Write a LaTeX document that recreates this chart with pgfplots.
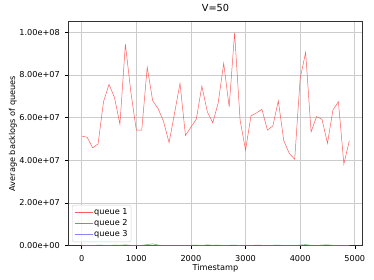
\documentclass[border=0pt]{standalone}
\usepackage{pgfplots}
\pgfplotsset{compat=1.18}
\usepackage{fontspec}
\setmainfont{DejaVu Sans}
\definecolor{gridgray}{HTML}{CCCCCC}
\definecolor{qred}{HTML}{FF4040}
\definecolor{qgreen}{HTML}{40A040}
\definecolor{qblue}{HTML}{7070FF}
\begin{document}
\begin{tikzpicture}
\begin{axis}[
  scale only axis,
  width=294.4bp, height=224bp,
  xmin=-245, xmax=5145,
  ymin=0, ymax=1.0497e8,
  xtick={0,1000,2000,3000,4000,5000},
  xticklabels={0,1000,2000,3000,4000,5000},
  ytick={0,2e7,4e7,6e7,8e7,1e8},
  yticklabels={0.00e+00,2.00e+07,4.00e+07,6.00e+07,8.00e+07,1.00e+08},
  scaled ticks=false,
  tick align=outside,
  tick pos=left,
  major tick length=2.8bp,
  every tick/.style={black, line width=0.5pt},
  grid=major,
  major grid style={gridgray, line width=0.8pt},
  axis line style={black!80, line width=0.6pt},
  tick label style={font=\fontsize{8.2}{10}\selectfont},
  /pgf/number format/assume math mode=true,
  xticklabel style={anchor=base, yshift=-12.6bp},
  yticklabel style={anchor=east, xshift=-2.2bp},
  title={V=50},
  title style={at={(axis description cs:0.5,1.021)}, anchor=base, font=\fontsize{9.8}{11}\selectfont},
  xlabel={Timestamp},
  xlabel style={at={(axis description cs:0.5,-0.1085)}, anchor=base, font=\fontsize{8.2}{10}\selectfont},
  ylabel={Average backlogs of queues},
  ylabel style={at={(axis description cs:-0.181,0.5)}, anchor=base, font=\fontsize{8.2}{10}\selectfont},
  legend style={at={(axis description cs:0.0126,0.0165)}, anchor=south west,
    draw=gray!35, rounded corners=2pt, fill=white, fill opacity=0.8, text opacity=1,
    font=\fontsize{8.2}{10}\selectfont, row sep=1.6pt, inner xsep=2.5pt, inner ysep=2.5pt,
    nodes={inner sep=1pt}},
  legend cell align=left,
  legend image code/.code={\draw[#1] (0bp,0bp) -- (18bp,0bp);},
]
\addplot[qred, line width=0.5pt, opacity=0.85] coordinates {
(0,5.14e7)(100,5.08e7)(200,4.59e7)(300,4.77e7)(400,6.75e7)(500,7.56e7)(600,6.95e7)(700,5.69e7)(800,9.45e7)(900,7.20e7)
(1000,5.42e7)(1100,5.42e7)(1200,8.37e7)(1300,6.79e7)(1400,6.42e7)(1500,5.81e7)(1600,4.83e7)(1700,6.20e7)(1800,7.61e7)(1900,5.17e7)
(2000,5.55e7)(2100,5.94e7)(2200,7.48e7)(2300,6.28e7)(2400,5.76e7)(2500,6.70e7)(2600,8.55e7)(2700,6.51e7)(2800,9.98e7)(2900,5.89e7)
(3000,4.48e7)(3100,6.09e7)(3200,6.22e7)(3300,6.39e7)(3400,5.42e7)(3500,5.61e7)(3600,6.79e7)(3700,4.92e7)(3800,4.33e7)(3900,4.05e7)
(4000,7.84e7)(4100,9.06e7)(4200,5.33e7)(4300,6.05e7)(4400,5.92e7)(4500,4.80e7)(4600,6.36e7)(4700,6.75e7)(4800,3.83e7)(4900,4.92e7)
};
\addlegendentry{queue 1}
\addplot[qgreen, line width=0.5pt, opacity=0.85] coordinates {
(0,1e5)(100,2e5)(200,1e5)(300,3e5)(400,2e5)(500,1e5)(600,3e5)(700,2e5)(800,4e5)(900,2e5)
(1000,1e5)(1100,2e5)(1200,5e5)(1300,9e5)(1400,3e5)(1500,1e5)(1600,2e5)(1700,1e5)(1800,2e5)(1900,1e5)
(2000,2e5)(2100,3e5)(2200,1e5)(2300,4e5)(2400,2e5)(2500,3e5)(2600,1e5)(2700,2e5)(2800,3e5)(2900,1e5)
(3000,2e5)(3100,1e5)(3200,3e5)(3300,2e5)(3400,1e5)(3500,2e5)(3600,3e5)(3700,1e5)(3800,2e5)(3900,1e5)
(4000,3e5)(4100,5e5)(4200,2e5)(4300,1e5)(4400,3e5)(4500,4e5)(4600,2e5)(4700,1e5)(4800,2e5)(4900,1e5)
};
\addlegendentry{queue 2}
\addplot[qblue, line width=0.5pt, opacity=0.85] coordinates {
(0,0.5e5)(100,1e5)(200,0.5e5)(300,1.5e5)(400,1e5)(500,0.5e5)(600,1e5)(700,1.5e5)(800,1e5)(900,0.5e5)
(1000,1e5)(1100,0.5e5)(1200,1e5)(1300,2e5)(1400,1e5)(1500,0.5e5)(1600,1e5)(1700,0.5e5)(1800,1e5)(1900,1.5e5)
(2000,1e5)(2100,0.5e5)(2200,1e5)(2300,1.5e5)(2400,1e5)(2500,0.5e5)(2600,1e5)(2700,0.5e5)(2800,1e5)(2900,1.5e5)
(3000,1e5)(3100,0.5e5)(3200,1e5)(3300,0.5e5)(3400,1e5)(3500,1.5e5)(3600,1e5)(3700,0.5e5)(3800,1e5)(3900,0.5e5)
(4000,1e5)(4100,2e5)(4200,1e5)(4300,0.5e5)(4400,1e5)(4500,1.5e5)(4600,1e5)(4700,0.5e5)(4800,1e5)(4900,0.5e5)
};
\addlegendentry{queue 3}
\end{axis}
\pgfresetboundingbox
\path[use as bounding box] ([xshift=-68.3bp,yshift=-34.3bp]current axis.south west) rectangle ++(374bp,280bp);
\end{tikzpicture}
\end{document}
